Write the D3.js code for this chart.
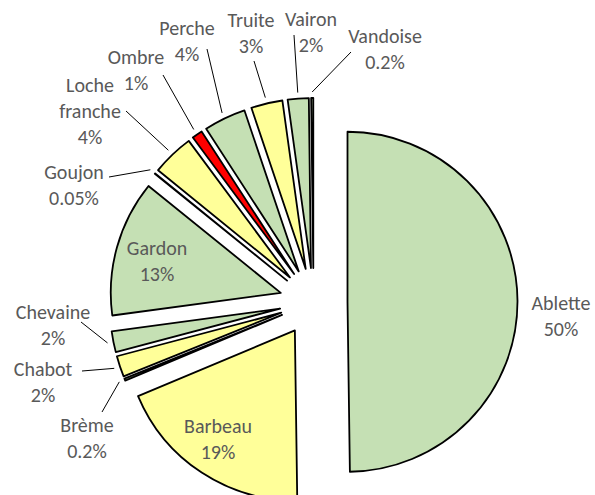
<!DOCTYPE html>
<html>
<head>
<meta charset="utf-8">
<script src="https://cdn.jsdelivr.net/npm/d3@7"></script>
<style>
  html, body { margin: 0; padding: 0; background: #fff; }
  svg { display: block; overflow: hidden; }
  text { font-family: Carlito, Calibri, Lato, sans-serif; fill: #595959; }
</style>
</head>
<body>
<svg id="chart" width="595" height="495"></svg>
<script>
// Species caught, share of the total catch (%)
const species = ["Ablette", "Barbeau", "Brème", "Chabot", "Chevaine", "Gardon", "Goujon",
                 "Loche franche", "Ombre", "Perche", "Truite", "Vairon", "Vandoise"];
const shares  = [50, 19, 0.2, 2, 2, 13, 0.05, 4, 1, 4, 3, 2, 0.2];
const groups  = ["g", "y", "g", "y", "g", "g", "g", "y", "r", "g", "y", "g", "g"];

// Label text lines (name may wrap)
const nameLines = [["Ablette"], ["Barbeau"], ["Brème"], ["Chabot"], ["Chevaine"], ["Gardon"], ["Goujon"],
                   ["Loche", "franche"], ["Ombre"], ["Perche"], ["Truite"], ["Vairon"], ["Vandoise"]];

// Label placement: centre x, first baseline y, leader start (null = no leader)
const labelLayout = [
  { x: 561, y: 310, lead: null },
  { x: 218, y: 433, lead: null },
  { x: 87,  y: 432, lead: [102, 412] },
  { x: 43,  y: 376, lead: [82, 371] },
  { x: 53,  y: 319, lead: [81, 322] },
  { x: 157, y: 255, lead: null },
  { x: 74,  y: 179, lead: [109, 177] },
  { x: 90,  y: 92,  lead: [126, 111] },
  { x: 136, y: 64,  lead: [163, 75] },
  { x: 187, y: 35,  lead: [207, 49] },
  { x: 251, y: 27,  lead: [254, 61] },
  { x: 311, y: 26,  lead: [294, 35] },
  { x: 385, y: 43,  lead: [351, 52] }
];

const fillOf = { g: "#C5E0B4", y: "#FFFF99", r: "#FF0000" };

const cx = 313.5, cy = 302;    // pie centre
const radius = 170;
const explode = 34;            // every slice pulled out by the same amount
const leaderGap = 6;
const lineH = 26;

const svg = d3.select("#chart");
const g = svg.append("g").attr("transform", `translate(${cx},${cy})`);

const pie = d3.pie().sort(null).value(d => d).startAngle(0).endAngle(2 * Math.PI);
const arcs = pie(shares);
const arc = d3.arc().innerRadius(0).outerRadius(radius);

const mid = a => (a.startAngle + a.endAngle) / 2;
const unit = t => [Math.sin(t), -Math.cos(t)];

// slices
g.selectAll("path.slice")
  .data(arcs)
  .join("path")
  .attr("class", "slice")
  .attr("transform", a => { const u = unit(mid(a)); return `translate(${u[0] * explode},${u[1] * explode})`; })
  .attr("d", arc)
  .attr("fill", (a, i) => fillOf[groups[i]])
  .attr("stroke", "#000")
  .attr("stroke-width", 1.8)
  .attr("stroke-linejoin", "round");

// leader lines and labels
const fmt = v => (v >= 1 ? d3.format(".0f")(v) : String(v)) + "%";

arcs.forEach((a, i) => {
  const L = labelLayout[i];
  if (L.lead) {
    const u = unit(mid(a));
    const R = radius + explode + leaderGap;
    svg.append("line")
      .attr("x1", L.lead[0]).attr("y1", L.lead[1])
      .attr("x2", cx + u[0] * R).attr("y2", cy + u[1] * R)
      .attr("stroke", "#000").attr("stroke-width", 1);
  }
  const lines = nameLines[i].concat([fmt(shares[i])]);
  const t = svg.append("text")
    .attr("text-anchor", "middle")
    .attr("font-size", 20);
  lines.forEach((s, k) => {
    t.append("tspan").attr("x", L.x).attr("y", L.y + k * lineH).text(s);
  });
});
</script>
</body>
</html>
